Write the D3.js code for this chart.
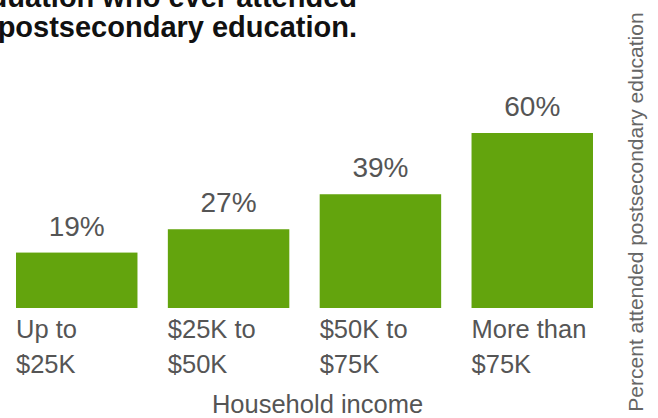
<!DOCTYPE html>
<html>
<head>
<meta charset="utf-8">
<script src="https://cdn.jsdelivr.net/npm/d3@7"></script>
<style>
  html, body { margin: 0; padding: 0; background: #fff; overflow: hidden; }
  svg { display: block; font-family: "Liberation Sans", Arial, Helvetica, sans-serif; }
</style>
</head>
<body>
<svg id="chart" width="658" height="418"></svg>
<script>
const categories = [["Up to", "$25K"], ["$25K to", "$50K"], ["$50K to", "$75K"], ["More than", "$75K"]];
const values = [19, 27, 39, 60];
const valueLabels = ["19%", "27%", "39%", "60%"];
const titleLines = ["Students within eight years of high school graduation who ever attended", "postsecondary education."];
const xAxisTitle = "Household income";
const yAxisTitle = "Percent attended postsecondary education";

const svg = d3.select("#chart");
const plotLeft = 16, plotRight = 593, baseY = 308, topY = 133;

const x = d3.scaleBand()
  .domain(d3.range(categories.length))
  .range([plotLeft, plotRight])
  .paddingInner(0.2)
  .paddingOuter(0);

const y = d3.scaleLinear()
  .domain([0, d3.max(values)])
  .range([baseY, topY]);

// Title
svg.append("g").selectAll("text").data(titleLines).join("text")
  .attr("x", 357)
  .attr("y", (d, i) => 7 + i * 30)
  .attr("text-anchor", "end")
  .attr("font-size", 29)
  .attr("font-weight", "bold")
  .attr("fill", "#111")
  .text(d => d);

// Bars
svg.append("g").selectAll("rect").data(values).join("rect")
  .attr("x", (d, i) => x(i))
  .attr("y", d => y(d))
  .attr("width", x.bandwidth())
  .attr("height", d => y(0) - y(d))
  .attr("fill", "#63a40d");

// Value labels
svg.append("g").selectAll("text").data(values).join("text")
  .attr("x", (d, i) => x(i) + x.bandwidth() / 2)
  .attr("y", d => y(d) - 17)
  .attr("text-anchor", "middle")
  .attr("font-size", 28)
  .attr("fill", "#555")
  .text((d, i) => valueLabels[i]);

// Category labels
const cat = svg.append("g").selectAll("text").data(categories).join("text")
  .attr("x", (d, i) => x(i))
  .attr("y", 338)
  .attr("font-size", 25.5)
  .attr("fill", "#555");
cat.selectAll("tspan").data(d => d).join("tspan")
  .attr("x", function() { return d3.select(this.parentNode).attr("x"); })
  .attr("dy", (d, i) => i === 0 ? 0 : 35)
  .text(d => d);

// X axis title
svg.append("text")
  .attr("x", 317.5)
  .attr("y", 412.5)
  .attr("text-anchor", "middle")
  .attr("font-size", 25.5)
  .attr("fill", "#555")
  .text(xAxisTitle);

// Y axis title (right, rotated)
svg.append("text")
  .attr("transform", "translate(643,212) rotate(-90)")
  .attr("text-anchor", "middle")
  .attr("font-size", 21)
  .attr("fill", "#666")
  .text(yAxisTitle);
</script>
</body>
</html>
